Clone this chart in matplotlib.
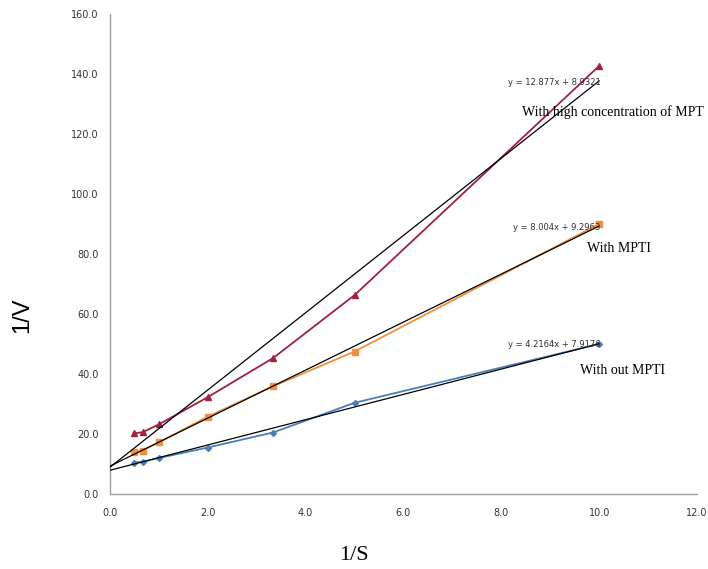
import matplotlib
matplotlib.use("Agg")
import matplotlib.pyplot as plt
import numpy as np

inv_s = [0.5, 0.667, 1.0, 2.0, 3.333, 5.0, 10.0]
without_mpti = [10.5, 10.7, 12.0, 15.5, 20.5, 30.4, 50.0]
with_mpti = [14.0, 14.5, 17.2, 25.8, 35.9, 47.5, 90.0]
with_high_mpti = [20.2, 20.6, 23.2, 32.3, 45.3, 66.3, 142.7]

fits = [(4.2164, 7.9176), (8.004, 9.2963), (12.877, 8.9321)]
eq_labels = ["y = 4.2164x + 7.9176", "y = 8.004x + 9.2963", "y = 12.877x + 8.9321"]
series_labels = ["With out MPTI", "With MPTI", "With high concentration of MPT"]
x_ticks = [0, 2, 4, 6, 8, 10, 12]
y_ticks = [0, 20, 40, 60, 80, 100, 120, 140, 160]

colors = ["#4A7EBB", "#F0903A", "#A3203F"]
markers = ["D", "s", "^"]
msizes = [3, 4, 4]

fig = plt.figure(figsize=(7.08, 5.69), dpi=100)
ax = fig.add_axes([110/708, 1-494/569, (697-110)/708, (494-14)/569])

series = [without_mpti, with_mpti, with_high_mpti]
for ys, c, m, ms in zip(series, colors, markers, msizes):
    ax.plot(inv_s, ys, color=c, marker=m, markersize=ms, linewidth=1.3, zorder=3)

xf = np.array([0.0, 10.0])
for (k, b) in fits:
    ax.plot(xf, k * xf + b, color="black", linewidth=0.9, zorder=4)

ax.set_xlim(0, 12)
ax.set_ylim(0, 160)
ax.set_xticks(x_ticks)
ax.set_yticks(y_ticks)
ax.set_xticklabels([f"{v:.1f}" for v in x_ticks])
ax.set_yticklabels([f"{v:.1f}" for v in y_ticks])
ax.tick_params(length=0, labelsize=7, colors="#333333")
ax.tick_params(axis="y", pad=8)
ax.tick_params(axis="x", pad=10)
for s in ["top", "right"]:
    ax.spines[s].set_visible(False)
for s in ["left", "bottom"]:
    ax.spines[s].set_color("#A0A0A0")
    ax.spines[s].set_linewidth(1.0)

serif = ["Liberation Serif", "DejaVu Serif"]
eq_pos = [(8.14, 49.7), (8.24, 89.0), (8.14, 137.3)]
lab_pos = [(9.61, 41.3), (9.75, 82.0), (8.42, 127.3)]
for t, (x, y) in zip(eq_labels, eq_pos):
    ax.text(x, y, t, fontsize=6, color="#303030", va="center", ha="left", zorder=5)
for t, (x, y) in zip(series_labels, lab_pos):
    ax.text(x, y, t, fontsize=10, family=serif, va="center", ha="left", clip_on=False, zorder=5)

fig.text(22/708, 1-315/569, "1/V", rotation=90, fontsize=17,
         family=["Liberation Sans", "DejaVu Sans"], ha="center", va="center")
fig.text(354/708, 1-556/569, "1/S", fontsize=16, family=serif, ha="center", va="center")

fig.savefig("out.png", dpi=100)
